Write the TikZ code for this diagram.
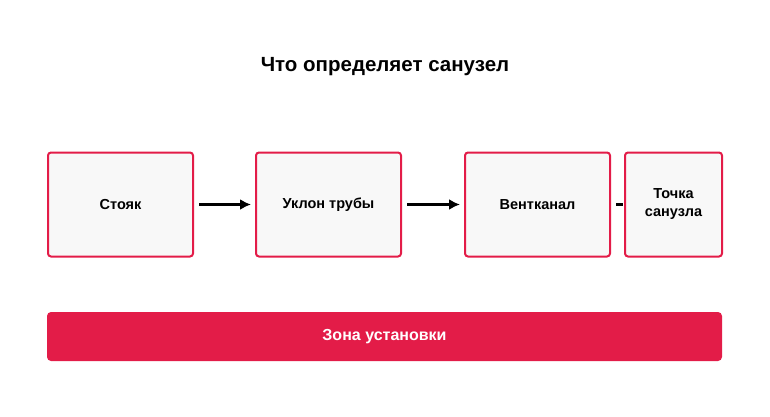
\documentclass[tikz,border=0pt]{standalone}
\usepackage{fontspec}
\setmainfont{Liberation Sans}
\usetikzlibrary{arrows.meta}
\definecolor{red}{HTML}{E31C48}
\definecolor{boxfill}{HTML}{F8F8F8}
\begin{document}
\begin{tikzpicture}[x=1pt,y=-1pt,
 box/.style={draw=red,line width=2pt,fill=boxfill,rounded corners=3pt,minimum height=104pt,align=center,font=\fontsize{14.5}{18}\selectfont\bfseries,inner sep=0pt},
 arr/.style={line width=2.2pt,-{Latex[length=11pt,width=11pt]}}]
\useasboundingbox (0,0) rectangle (770,417);
\node[font=\fontsize{20.5}{24}\selectfont\bfseries] (t) at (385,67) {Что определяет санузел};
\node[box,minimum width=145pt] (a) at (120.5,204.5) {Стояк};
\node[box,minimum width=145pt] (b) at (328.5,204.5) {Уклон трубы};
\node[box,minimum width=145pt] (c) at (537.5,204.5) {Вентканал};
\node[box,minimum width=97pt] (d) at (673.5,204.5) {Точка\\санузла};
\node[fill=red,rounded corners=4pt,minimum width=675pt,minimum height=49pt,text=white,font=\fontsize{16}{19}\selectfont\bfseries] (z) at (384.5,336.5) {Зона установки};
\draw[arr,shorten <=5pt,shorten >=4pt] (a.east) -- (b.west);
\draw[arr,shorten <=5pt,shorten >=4pt] (b.east) -- (c.west);
\draw[line width=2.2pt,shorten <=5pt,shorten >=1pt] (c.east) -- (d.west);
\end{tikzpicture}
\end{document}
